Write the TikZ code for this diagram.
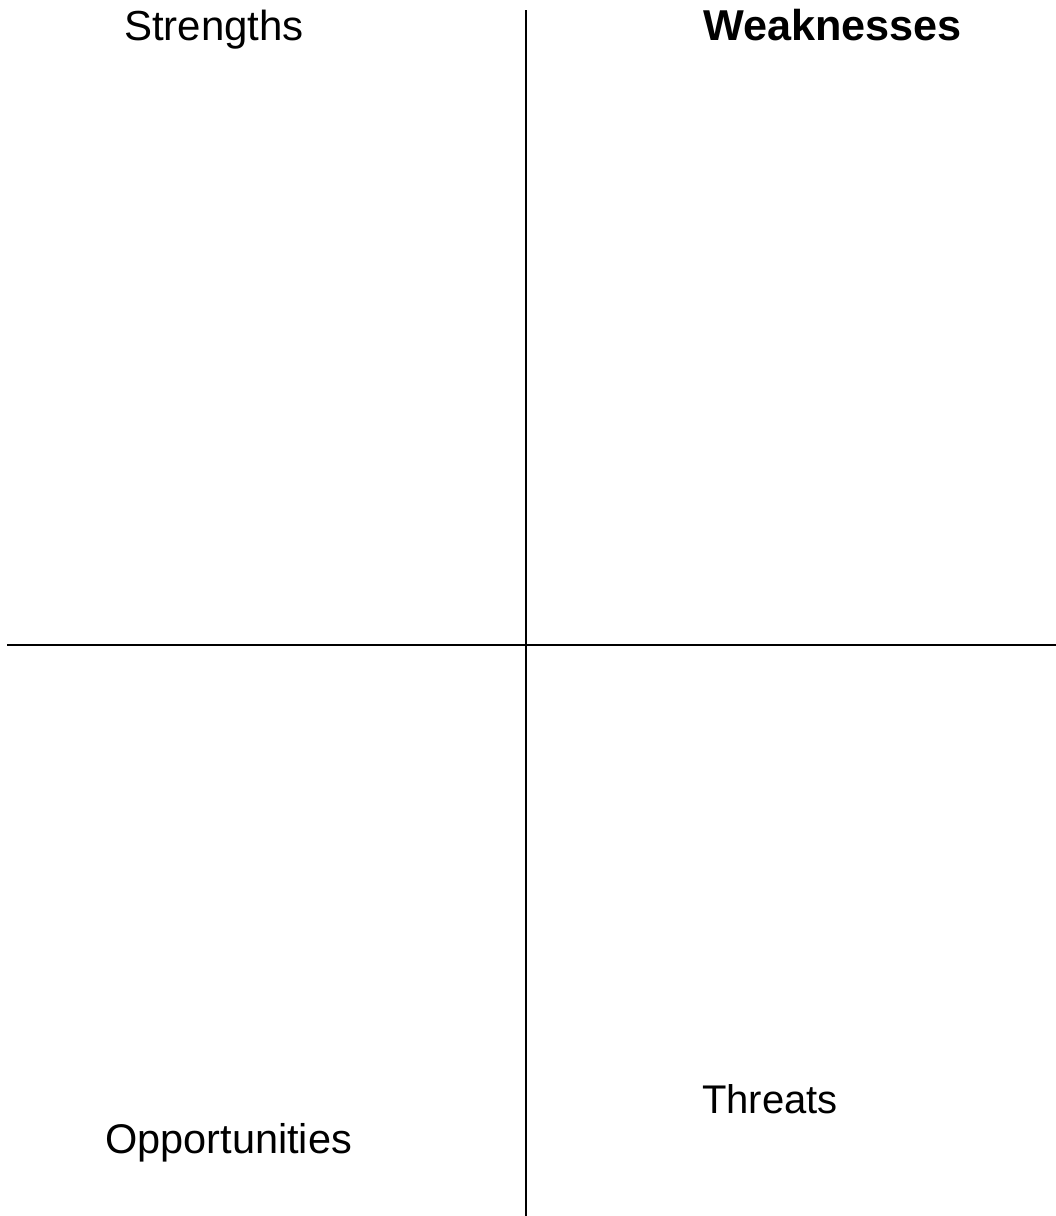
\documentclass[tikz,border=0pt]{standalone}
\usepackage{fontspec}
\setmainfont{Liberation Sans}
\begin{document}
\begin{tikzpicture}[x=1pt,y=-1pt,
  lbl/.style={anchor=base west,inner sep=0pt,font=\fontsize{41}{49}\selectfont},
  divider/.style={line width=2pt,black}]
\useasboundingbox (0,0) rectangle (1056,1216);
\coordinate (vtop) at (525.5,10);
\coordinate (vbot) at (525.5,1216);
\coordinate (hleft) at (7,644.5);
\coordinate (hright) at (1056,644.5);
\draw[divider] (vtop) -- (vbot);
\draw[divider] (hleft) -- (hright);
\node[lbl,font=\fontsize{42}{50}\selectfont] (s) at (124,40) {Strengths};
\node[lbl,font=\fontsize{43.2}{50}\selectfont\bfseries] (w) at (703,40) {Weaknesses};
\node[lbl,font=\fontsize{40}{48}\selectfont] (t) at (702,1113) {Threats};
\node[lbl,font=\fontsize{41.5}{49}\selectfont] (o) at (105,1153) {Opportunities};
\end{tikzpicture}
\end{document}
